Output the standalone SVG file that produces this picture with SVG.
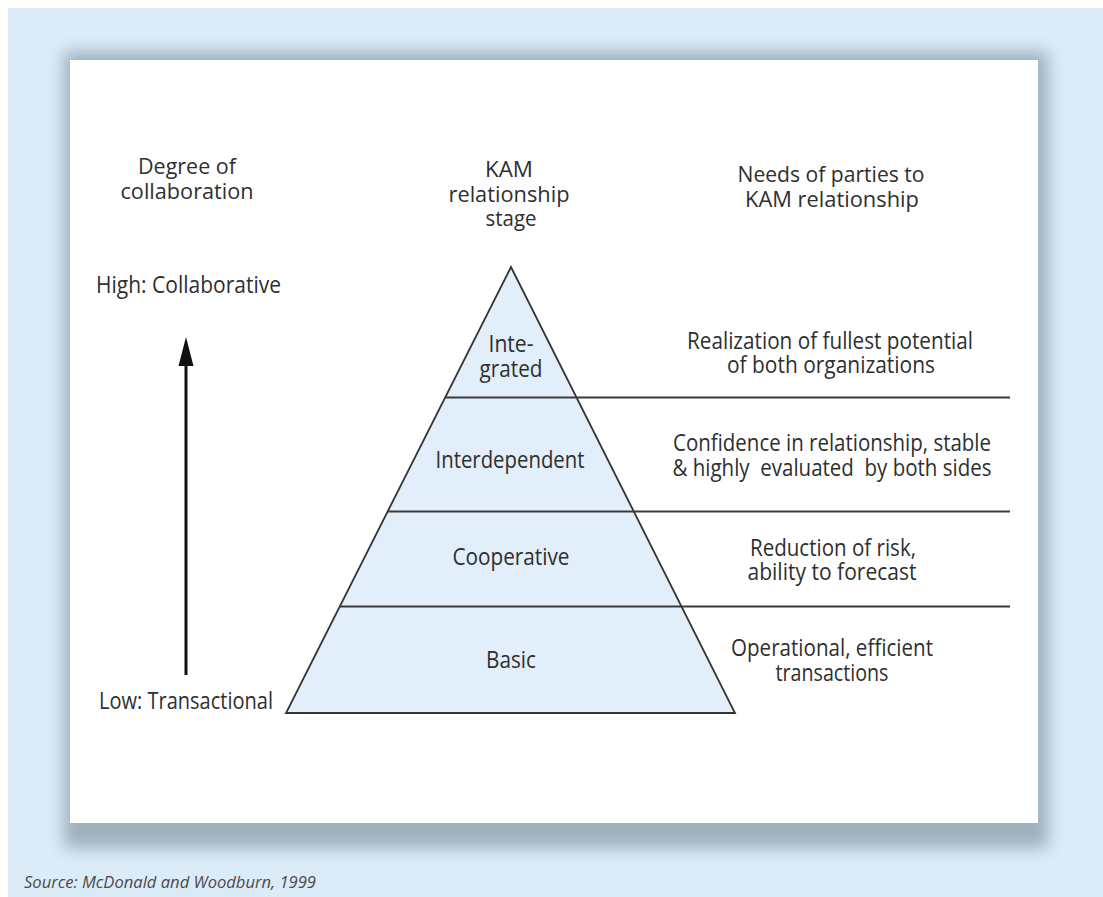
<svg xmlns="http://www.w3.org/2000/svg" width="1103" height="897" viewBox="0 0 1103 897">
  <style>
    text { font-family: "Open Sans", "Noto Sans", "Liberation Sans", sans-serif; fill: #2f2f2f; }
    .hd { font-size: 22px; text-anchor: middle; }
    .lb { font-size: 24px; text-anchor: middle; }
    .side { font-size: 24px; }
    .pre { white-space: pre; }
    .src { font-size: 17px; font-style: italic; fill: #4a4a4a; }
    .rule { stroke: #3a3a3a; stroke-width: 1.8; fill: none; }
  </style>
  <defs>
    <filter id="soft" x="-10%" y="-10%" width="120%" height="120%">
      <feGaussianBlur stdDeviation="8"/>
    </filter>
  </defs>

  <!-- page backdrop -->
  <rect x="0" y="0" width="1103" height="897" fill="#ffffff"/>
  <rect x="8" y="8" width="1095" height="889" fill="#dbebf8"/>

  <!-- card with drop shadow -->
  <rect x="64" y="52" width="984" height="796" fill="#93a6b2" opacity="0.85" filter="url(#soft)"/>
  <rect x="70" y="60" width="968" height="763" fill="#ffffff"/>

  <!-- column headings -->
  <g id="heading-collaboration">
    <text class="hd" x="187" y="174" textLength="98" lengthAdjust="spacingAndGlyphs">Degree of</text>
    <text class="hd" x="187" y="199" textLength="133" lengthAdjust="spacingAndGlyphs">collaboration</text>
  </g>
  <g id="heading-stage">
    <text class="hd" x="509" y="177" textLength="48" lengthAdjust="spacingAndGlyphs">KAM</text>
    <text class="hd" x="509" y="202" textLength="121" lengthAdjust="spacingAndGlyphs">relationship</text>
    <text class="hd" x="511" y="226" textLength="51" lengthAdjust="spacingAndGlyphs">stage</text>
  </g>
  <g id="heading-needs">
    <text class="hd" x="831" y="182" textLength="187" lengthAdjust="spacingAndGlyphs">Needs of parties to</text>
    <text class="hd" x="832" y="207" textLength="174" lengthAdjust="spacingAndGlyphs">KAM relationship</text>
  </g>

  <!-- collaboration scale -->
  <g id="scale-high">
    <text class="side" x="96" y="293" textLength="185" lengthAdjust="spacingAndGlyphs">High: Collaborative</text>
  </g>
  <g id="scale-low">
    <text class="side" x="99" y="709" textLength="174" lengthAdjust="spacingAndGlyphs">Low: Transactional</text>
  </g>

  <!-- pyramid -->
  <g id="pyramid">
    <polygon points="511,267 286,713 735,713" fill="#e2eef9" stroke="#333333" stroke-width="1.8" stroke-linejoin="miter"/>
  </g>

  <g id="connectors">
    <line class="rule" x1="445" y1="397.5" x2="1010" y2="397.5"/>
    <line class="rule" x1="388" y1="511.5" x2="1010" y2="511.5"/>
    <line class="rule" x1="340" y1="606.5" x2="1010" y2="606.5"/>
    <line x1="186" y1="675" x2="186" y2="360" stroke="#111111" stroke-width="3"/>
    <polygon points="186,337 178.5,366 193.5,366" fill="#111111"/>
  </g>

  <!-- stage labels -->
  <g id="stage-integrated">
    <text class="lb" x="511" y="352" textLength="45" lengthAdjust="spacingAndGlyphs">Inte-</text>
    <text class="lb" x="511" y="377" textLength="63" lengthAdjust="spacingAndGlyphs">grated</text>
  </g>
  <g id="stage-interdependent">
    <text class="lb" x="510" y="468" textLength="149" lengthAdjust="spacingAndGlyphs">Interdependent</text>
  </g>
  <g id="stage-cooperative">
    <text class="lb" x="511" y="565" textLength="117" lengthAdjust="spacingAndGlyphs">Cooperative</text>
  </g>
  <g id="stage-basic">
    <text class="lb" x="511" y="668" textLength="50" lengthAdjust="spacingAndGlyphs">Basic</text>
  </g>

  <!-- needs per stage -->
  <g id="needs-integrated">
    <text class="lb" x="830" y="349" textLength="286" lengthAdjust="spacingAndGlyphs">Realization of fullest potential</text>
    <text class="lb" x="831" y="373" textLength="208" lengthAdjust="spacingAndGlyphs">of both organizations</text>
  </g>
  <g id="needs-interdependent">
    <text class="lb" x="832" y="451" textLength="318" lengthAdjust="spacingAndGlyphs">Confidence in relationship, stable</text>
    <text class="lb pre" x="832" y="476" textLength="319" lengthAdjust="spacingAndGlyphs">&amp; highly  evaluated  by both sides</text>
  </g>
  <g id="needs-cooperative">
    <text class="lb" x="833" y="556" textLength="166" lengthAdjust="spacingAndGlyphs">Reduction of risk,</text>
    <text class="lb" x="832" y="580" textLength="169" lengthAdjust="spacingAndGlyphs">ability to forecast</text>
  </g>
  <g id="needs-basic">
    <text class="lb" x="832" y="656" textLength="202" lengthAdjust="spacingAndGlyphs">Operational, efficient</text>
    <text class="lb" x="832" y="681" textLength="113" lengthAdjust="spacingAndGlyphs">transactions</text>
  </g>

  <!-- citation -->
  <text class="src" x="24" y="888" textLength="292" lengthAdjust="spacingAndGlyphs">Source: McDonald and Woodburn, 1999</text>
</svg>
